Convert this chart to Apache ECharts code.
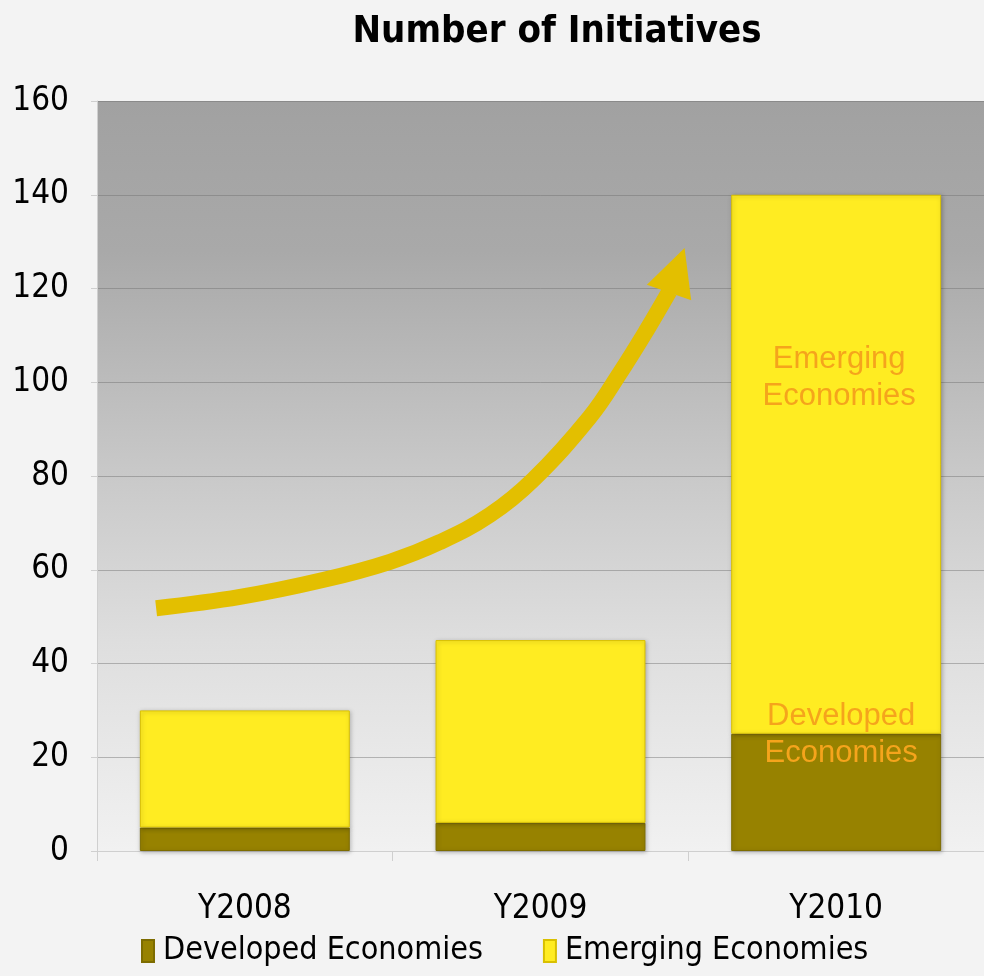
<!DOCTYPE html>
<html><head><meta charset="utf-8">
<script src="https://cdn.jsdelivr.net/npm/echarts@6/dist/echarts.min.js"></script>
<style>html,body{margin:0;padding:0;background:#f3f3f3}#c{width:984px;height:976px}</style>
</head><body><div id="c"></div>
<script>
const categories = ['Y2008', 'Y2009', 'Y2010'];
const developed = [5, 6, 25];
const emerging = [25, 39, 115];
const yTicks = [0, 20, 40, 60, 80, 100, 120, 140, 160];
// decorative growth arrow in data units (x: category position, y: value)
const arrowX = [-0.300, -0.016, 0.264, 0.491, 0.660, 0.829, 0.975, 1.167, 1.269, 1.360, 1.436];
const arrowY = [51.8, 54.2, 57.8, 61.7, 65.9, 71.7, 79.2, 92.6, 102.0, 111.2, 119.4];
const arrowHead = [1.461, 123.9];

const narrow = "'Liberation Sans Narrow','Arial Narrow','DejaVu Sans Condensed',sans-serif";
const chart = echarts.init(document.getElementById('c'));
const labelStyle = {fontFamily: 'Liberation Sans, Arial, sans-serif', fontSize: 31, color: '#f5a41c', lineHeight: 37};
chart.setOption({
  backgroundColor: '#f3f3f3',
  animation: false,
  title: {text: 'Number of Initiatives', left: 552, textAlign: 'center', top: 8,
    textStyle: {fontFamily: narrow, fontWeight: 'bold', fontSize: 38, color: '#000'}},
  legend: {bottom: 4, left: 136, itemGap: 60, itemWidth: 12, itemHeight: 22, icon: 'rect',
    data: ['Developed Economies', 'Emerging Economies'],
    textStyle: {fontFamily: narrow, fontSize: 32, color: '#000', padding: [0, 0, 0, 4]}},
  grid: {left: 97, right: 0, top: 101, bottom: 125, show: true, borderWidth: 0,
    backgroundColor: new echarts.graphic.LinearGradient(0, 0, 0, 1, [
      {offset: 0, color: '#a1a1a1'}, {offset: 0.2, color: '#a9a9a9'},
      {offset: 0.5, color: '#c9c9c9'}, {offset: 0.72, color: '#dedede'}, {offset: 1, color: '#f1f1f1'}])},
  xAxis: [{type: 'category', data: categories,
    axisLine: {lineStyle: {color: '#cfcfcf', width: 1}},
    axisTick: {show: true, length: 10, lineStyle: {color: '#cfcfcf'}},
    axisLabel: {fontFamily: narrow, fontSize: 33, color: '#000', margin: 42}},
   {type: 'value', min: -0.5, max: 2.5, show: false}],
  yAxis: {type: 'value', min: 0, max: 160, interval: 20,
    axisLine: {show: true, onZero: false, lineStyle: {color: '#cfcfcf'}},
    axisTick: {show: true, length: 6, lineStyle: {color: '#cfcfcf'}},
    axisLabel: {fontFamily: narrow, fontSize: 33, color: '#000', margin: 28,
      formatter: v => yTicks.includes(v) ? String(v) : ''},
    splitLine: {lineStyle: {color: 'rgba(110,110,110,0.45)', width: 1}}},
  series: [
    {name: 'Developed Economies', type: 'bar', stack: 's', barCategoryGap: '29%',
      itemStyle: {color: '#978200', borderColor: '#7d6c00', borderWidth: 1,
        shadowColor: 'rgba(0,0,0,0.25)', shadowBlur: 4, shadowOffsetX: 1, shadowOffsetY: 1},
      data: developed.map((v, i) => i === 2 ? {value: v, label: {show: true, position: 'inside',
        offset: [5, -57], formatter: 'Developed\nEconomies', ...labelStyle}} : v)},
    {name: 'Emerging Economies', type: 'bar', stack: 's',
      itemStyle: {color: '#ffec22', borderColor: '#d9c000', borderWidth: 1,
        shadowColor: 'rgba(0,0,0,0.25)', shadowBlur: 4, shadowOffsetX: 1, shadowOffsetY: 1},
      data: emerging.map((v, i) => i === 2 ? {value: v, label: {show: true, position: 'inside',
        offset: [3, -86], formatter: 'Emerging\nEconomies', ...labelStyle}} : v)},
    {type: 'line', xAxisIndex: 1, smooth: 0.4, symbol: 'none', silent: true,
      lineStyle: {color: '#e3bf00', width: 16, cap: 'butt'},
      data: arrowX.map((x, i) => [x, arrowY[i]]), z: 5},
    {type: 'lines', coordinateSystem: 'cartesian2d', xAxisIndex: 1, yAxisIndex: 0, silent: true,
      symbol: ['none', 'triangle'], symbolSize: [48, 47], z: 6,
      lineStyle: {color: '#e3bf00', width: 1, opacity: 1},
      data: [{coords: [[arrowX[arrowX.length - 1], arrowY[arrowY.length - 1]], arrowHead]}]}
  ]
});
</script></body></html>
